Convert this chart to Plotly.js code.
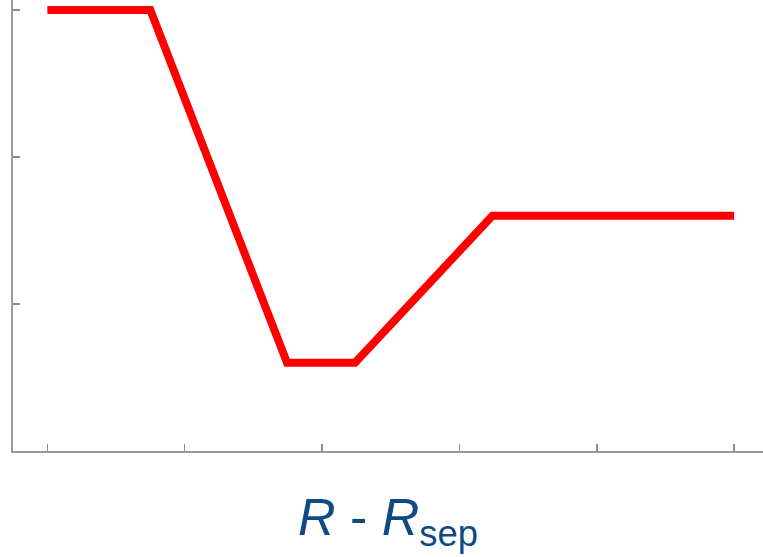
<!DOCTYPE html>
<html>
<head>
<meta charset="utf-8">
<script src="https://cdn.plot.ly/plotly-3.0.1.min.js"></script>
<style>html,body{margin:0;padding:0;background:#fff;}#chart{width:763px;height:557px;}</style>
</head>
<body>
<div id="chart"></div>
<script>
// Data
const xValues = [0, 0.75, 1.745, 2.24, 3.24, 5.0];
const yValues = [3.0, 3.0, 0.6, 0.6, 1.6, 1.6];
const xTicks = [0, 1, 2, 3, 4, 5];
const yTicks = [1, 2, 3];
const xTitle = '<i>R</i> - <i>R</i><sub>sep</sub>';

const trace = {
  x: xValues,
  y: yValues,
  type: 'scatter',
  mode: 'lines',
  line: {color: '#ff0000', width: 8},
  hoverinfo: 'skip'
};

const layout = {
  width: 763,
  height: 557,
  margin: {l: 13, r: 0, t: 0, b: 106, pad: 0},
  paper_bgcolor: '#ffffff',
  plot_bgcolor: '#ffffff',
  showlegend: false,
  xaxis: {
    range: [-0.25, 5.21],
    tickvals: xTicks,
    showticklabels: false,
    ticks: 'inside',
    ticklen: 7,
    tickwidth: 1.5,
    tickcolor: '#8c8c8c',
    showline: true,
    linecolor: '#9a9a9a',
    linewidth: 2,
    showgrid: false,
    zeroline: false,
    title: {
      text: xTitle,
      font: {family: 'Liberation Sans, Arial, sans-serif', size: 52, color: '#0f4a84'},
      standoff: 47
    }
  },
  yaxis: {
    range: [0, 3.068],
    tickvals: yTicks,
    showticklabels: false,
    ticks: 'inside',
    ticklen: 7,
    tickwidth: 1.5,
    tickcolor: '#8c8c8c',
    showline: true,
    linecolor: '#9a9a9a',
    linewidth: 2,
    showgrid: false,
    zeroline: false
  }
};

Plotly.newPlot('chart', [trace], layout, {displayModeBar: false, staticPlot: true});
</script>
</body>
</html>
